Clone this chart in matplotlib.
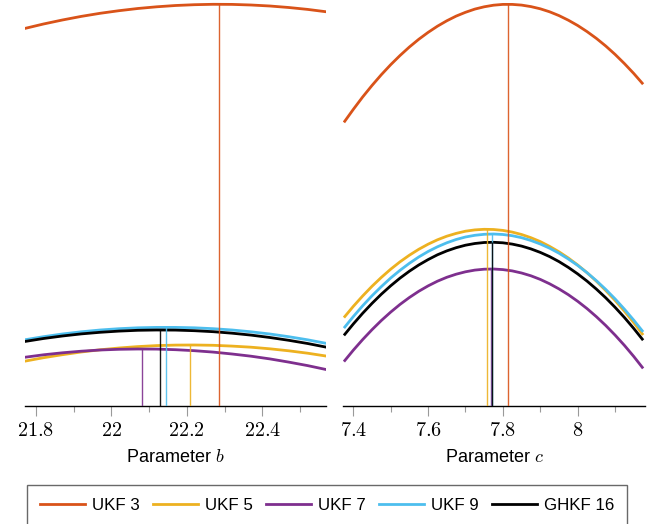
import numpy as np
import matplotlib
matplotlib.use("Agg")
import matplotlib.pyplot as plt
from matplotlib.lines import Line2D
from matplotlib.ticker import FixedLocator, FuncFormatter

plt.rcParams['font.family'] = ['Liberation Sans', 'DejaVu Sans']
plt.rcParams['mathtext.fontset'] = 'cm'

filters = ["UKF 3", "UKF 5", "UKF 7", "UKF 9", "GHKF 16"]
colors = ["#D95319", "#EDB120", "#7E2F8E", "#4DBEEE", "#000000"]

# Parameter b: grid and (shifted) log-likelihood of each filter
b_grid = [21.77, 21.82, 21.87, 21.92, 21.97, 22.02, 22.07, 22.12, 22.17,
          22.22, 22.27, 22.32, 22.37, 22.42, 22.47, 22.52, 22.57]
loglik_b_ukf3 = [377.5, 382.0, 386.0, 389.6, 392.7, 395.3, 397.5, 399.2, 400.5,
                 401.3, 401.7, 401.6, 401.0, 400.0, 398.5, 396.6, 394.2]
loglik_b_ukf5 = [44.8, 48.3, 51.3, 54.0, 56.2, 58.0, 59.4, 60.4, 60.9,
                 61.0, 60.7, 59.9, 58.8, 57.2, 55.2, 52.8, 49.9]
loglik_b_ukf7 = [48.7, 51.2, 53.2, 54.8, 56.0, 56.7, 57.0, 56.9, 56.3,
                 55.3, 53.9, 52.0, 49.8, 47.1, 43.9, 40.4, 36.4]
loglik_b_ukf9 = [66.2, 69.3, 72.0, 74.2, 76.0, 77.3, 78.2, 78.6, 78.6,
                 78.2, 77.3, 76.0, 74.2, 72.0, 69.3, 66.2, 62.6]
loglik_b_ghkf16 = [64.5, 67.5, 70.0, 72.1, 73.7, 74.9, 75.7, 76.0, 75.9,
                   75.3, 74.3, 72.8, 70.9, 68.5, 65.7, 62.5, 58.8]
argmax_b = [22.284, 22.208, 22.080, 22.145, 22.130]

# Parameter c: grid and (shifted) log-likelihood of each filter
c_grid = [7.375, 7.4, 7.425, 7.45, 7.475, 7.5, 7.525, 7.55, 7.575, 7.6, 7.625,
          7.65, 7.675, 7.7, 7.725, 7.75, 7.775, 7.8, 7.825, 7.85, 7.875, 7.9,
          7.925, 7.95, 7.975, 8.0, 8.025, 8.05, 8.075, 8.1, 8.125, 8.15, 8.175]
loglik_c_ukf3 = [283.6, 296.6, 309.0, 320.5, 331.3, 341.3, 350.5, 359.0, 366.7,
                 373.6, 379.8, 385.2, 389.9, 393.7, 396.9, 399.2, 400.8, 401.6,
                 401.6, 400.9, 399.4, 397.2, 394.2, 390.4, 385.8, 380.5, 374.4,
                 367.6, 360.0, 351.6, 342.4, 332.5, 321.8]
loglik_c_ukf5 = [88.4, 99.6, 110.0, 119.7, 128.6, 136.8, 144.2, 150.8, 156.7,
                 161.8, 166.2, 169.8, 172.6, 174.8, 176.1, 176.7, 176.5, 175.6,
                 173.9, 171.5, 168.3, 164.4, 159.6, 154.2, 148.0, 141.0, 133.3,
                 124.8, 115.5, 105.6, 94.8, 83.3, 71.0]
loglik_c_ukf7 = [44.4, 55.8, 66.4, 76.3, 85.5, 93.9, 101.6, 108.5, 114.7,
                 120.1, 124.8, 128.7, 131.8, 134.2, 135.9, 136.8, 137.0, 136.4,
                 135.1, 133.0, 130.2, 126.6, 122.2, 117.1, 111.3, 104.7, 97.4,
                 89.3, 80.5, 70.9, 60.6, 49.5, 37.6]
loglik_c_ukf9 = [77.9, 89.4, 100.2, 110.2, 119.4, 128.0, 135.7, 142.7, 149.0,
                 154.5, 159.2, 163.2, 166.5, 169.0, 170.7, 171.7, 172.0, 171.5,
                 170.3, 168.3, 165.5, 162.0, 157.8, 152.8, 147.0, 140.6, 133.3,
                 125.3, 116.6, 107.1, 96.8, 85.8, 74.1]
loglik_c_ghkf16 = [70.6, 82.0, 92.7, 102.6, 111.8, 120.2, 127.9, 134.8, 141.0,
                   146.4, 151.2, 155.1, 158.3, 160.8, 162.5, 163.5, 163.7, 163.2,
                   161.9, 159.9, 157.1, 153.6, 149.4, 144.4, 138.6, 132.1, 124.9,
                   116.9, 108.2, 98.7, 88.5, 77.5, 65.8]
argmax_c = [7.814, 7.757, 7.768, 7.771, 7.770]

b_ticks = [21.8, 22.0, 22.2, 22.4]
b_minor = [21.9, 22.1, 22.3, 22.5]
c_ticks = [7.4, 7.6, 7.8, 8.0]
c_minor = [7.5, 7.7, 7.9, 8.1]

panels = [
    dict(grid=b_grid,
         curves=[loglik_b_ukf3, loglik_b_ukf5, loglik_b_ukf7, loglik_b_ukf9, loglik_b_ghkf16],
         argmax=argmax_b, xlim=(21.771, 22.568), ticks=b_ticks, minor=b_minor,
         label="Parameter $b$", pos=[0.03748, 0.22519, 0.45082, 0.77481]),
    dict(grid=c_grid,
         curves=[loglik_c_ukf3, loglik_c_ukf5, loglik_c_ukf7, loglik_c_ukf9, loglik_c_ghkf16],
         argmax=argmax_c, xlim=(7.3733, 8.18), ticks=c_ticks, minor=c_minor,
         label="Parameter $c$", pos=[0.51469, 0.22519, 0.45232, 0.77481]),
]

fig = plt.figure(figsize=(6.67, 5.24), dpi=100)

for p in panels:
    ax = fig.add_axes(p["pos"])
    grid = np.asarray(p["grid"])
    for curve, col in zip(p["curves"], colors):
        ax.plot(grid, curve, color=col, lw=2.0, solid_capstyle='butt',
                solid_joinstyle='round', zorder=2)
    # maximum-likelihood estimate of each filter
    for x0, curve, col in zip(p["argmax"], p["curves"], colors):
        top = np.interp(x0, grid, curve)
        ax.vlines(x0, 0, top, colors=col, lw=1.0, alpha=0.9, zorder=3)
    ax.set_xlim(*p["xlim"])
    ax.set_ylim(0, 406)
    ax.set_yticks([])
    for s in ("left", "right", "top"):
        ax.spines[s].set_visible(False)
    ax.spines["bottom"].set_linewidth(1.0)
    ax.xaxis.set_major_locator(FixedLocator(p["ticks"]))
    ax.xaxis.set_minor_locator(FixedLocator(p["minor"]))
    ax.xaxis.set_major_formatter(FuncFormatter(lambda v, pos: f"${v:g}$"))
    ax.tick_params(axis="x", which="major", direction="out", length=7.5,
                   width=0.8, color="#9a9a9a", labelsize=14.5, pad=3.5)
    ax.tick_params(axis="x", which="minor", direction="out", length=4.5,
                   width=0.8, color="#9a9a9a")
    ax.set_xlabel(p["label"], fontsize=13, labelpad=6.5)

handles = [Line2D([], [], color=c, lw=2.0) for c in colors]
fig.legend(handles, filters, loc="lower center", bbox_to_anchor=(0.4903, -0.004),
           ncol=5, frameon=True, fancybox=False, edgecolor="#444444",
           fontsize=12.2, handlelength=2.65, handletextpad=0.42,
           columnspacing=0.78, borderpad=0.78, borderaxespad=0.0)

fig.savefig("out.png", dpi=100)
